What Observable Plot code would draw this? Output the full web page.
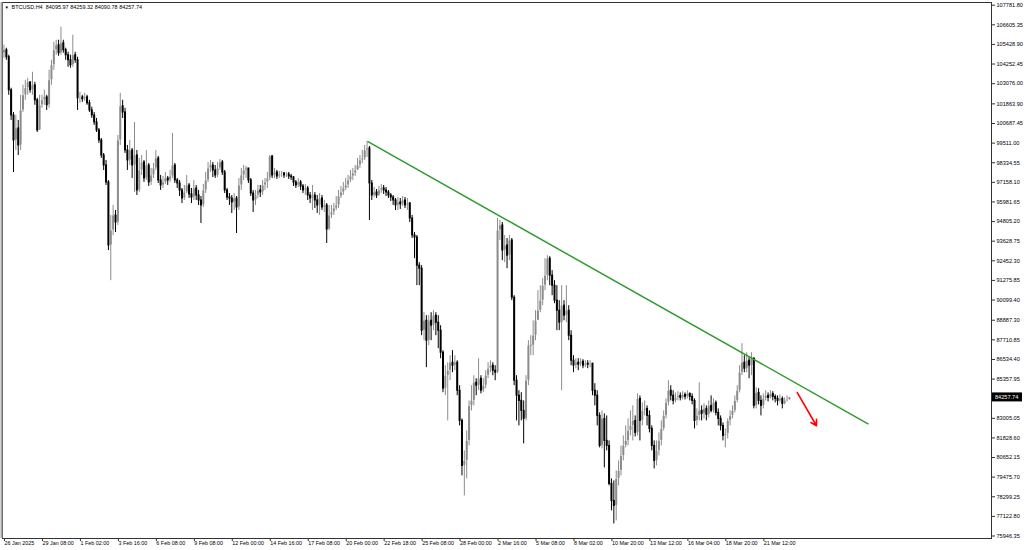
<!DOCTYPE html>
<html><head><meta charset="utf-8">
<script src="https://cdn.jsdelivr.net/npm/d3@7"></script>
<script src="https://cdn.jsdelivr.net/npm/@observablehq/plot@0.6"></script>
<style>html,body{margin:0;padding:0;background:#fff;} svg{display:block}</style>
</head><body><div id="chart"></div>
<script>
const symbolTitle = "BTCUSD,H4  84095.97 84259.32 84090.78 84257.74";
const firstOpen = 104900;
const closes = [
105080,104660,102680,101170,99670,100390,99370,101470,102380,102800,
103160,102680,102980,102080,100270,101780,102080,102260,101780,103280,
104180,105080,105380,104900,105500,105080,104780,104480,104180,104780,
104480,102200,102260,102140,102260,101900,101470,101170,100750,100270,
99670,98770,98170,97150,93370,94270,95170,94750,99670,101720,
101350,99070,98470,99070,98170,98770,96670,97870,98350,97390,
98170,97150,97570,97990,98590,97270,96970,97150,97390,97270,
97510,98170,97270,97090,96670,96190,96550,96970,96430,96250,
96790,96370,96070,95770,96670,97270,97990,98170,97870,97570,
97990,98350,97750,96670,96250,96190,95950,96190,95650,96970,
97570,97870,97990,97270,96490,96070,96370,96670,96550,96970,
97150,97390,98710,97570,97750,97510,97630,97690,97570,97630,
97510,97450,97150,96970,97150,96910,96670,96790,96370,96190,
96370,96070,95770,96190,95650,95770,94330,95170,95350,95590,
95770,96310,96550,96790,96970,97270,97510,97690,97870,98170,
98470,98590,99070,99190,97090,96370,96550,96370,96670,96790,
96670,96550,96370,96250,96070,95770,95950,95830,96070,95770,
95890,94990,93970,93850,92160,91980,88260,88860,87660,88860,
88560,89160,88740,88260,86940,84780,85560,85860,86340,86160,
86340,84660,82850,80150,80450,81650,83750,84050,85140,84960,
85380,84660,84960,85560,85980,86160,85860,85740,94270,94570,
93070,93370,92760,93670,90240,85260,84360,84050,83450,82970,
85260,87360,87360,87960,88860,89460,90060,90960,91560,92580,
91560,90960,90060,89460,88740,89760,89160,89460,87960,86460,
86160,86340,86220,86400,86160,86280,86220,86280,84660,84360,
83150,81350,82970,81650,81350,79070,78050,77750,79370,79850,
80750,81350,81650,82250,82550,82850,82130,84170,82850,83450,
83570,83150,82370,81350,80450,81050,81650,82370,83150,83930,
84660,84360,84050,84230,84350,84230,84410,84290,84470,84290,
84050,82850,83150,83450,83270,83570,83210,83750,83450,83930,
83330,82970,82550,81950,82070,82850,83150,83450,84050,84660,
85740,86340,85980,86460,86160,86580,83750,84530,84050,83750,
84170,84350,84230,84470,84290,84170,84050,84170,83870,84050,
84095.97,84257.74];
const highs = [
105380,105200,104780,102800,101350,101170,100870,102380,102980,103280,
103400,103160,103760,103160,102200,102380,102380,102680,102380,103880,
104480,105560,105680,105680,106460,105680,105200,104960,104780,105980,
104960,104660,102560,102380,102500,102380,102080,101660,101350,100990,
100390,99790,98890,98470,97270,95170,95770,95470,99970,102500,
102080,101600,99370,99670,99190,100750,99070,98590,98770,98470,
99070,98290,97990,98290,99070,98710,97570,97510,97750,97510,
97870,100090,98290,97390,97270,96790,96970,97570,97090,96790,
97270,96970,96670,96310,97030,97750,98350,98470,98350,98170,
98350,98530,98470,97870,96790,96490,96370,96490,96310,97390,
97990,98170,98110,97990,97390,96670,96670,96970,96970,97270,
97390,97750,98770,98770,97990,97870,97810,97810,97750,97750,
97750,97630,97510,97270,97390,97270,97030,97030,96910,96550,
96970,96550,96370,96490,96370,96070,95890,95770,95770,95890,
96310,96670,96910,97150,97390,97570,97870,97990,98170,98590,
98770,99070,99370,99610,99310,97270,96850,96730,96910,97030,
96970,96850,96670,96490,96370,96190,96250,96190,96310,96250,
96190,95950,95170,94150,93970,92340,92160,89340,89160,89160,
89340,89460,89340,89160,88560,87060,86160,86340,86760,87060,
86760,86460,84960,82970,81050,82250,84050,84960,85560,85380,
86580,85560,85380,85860,86340,86460,86340,86160,94990,94870,
94750,93970,93790,93970,93790,90360,85560,84660,84540,84050,
85560,87660,87960,88860,89460,90660,90960,91380,92580,92760,
92700,91860,91260,90960,90060,90960,90060,90960,89760,88260,
86760,86580,86580,86580,86520,86460,86460,86460,86300,85080,
84660,83330,83450,83270,83150,81650,79370,79250,79850,80450,
81350,81950,82550,82970,83450,83750,83150,84470,84350,83930,
84050,83750,83450,82550,81650,81650,82130,82850,83450,84170,
85260,84960,84660,84530,84600,84530,84600,84530,84660,84530,
84470,84170,83570,85140,83750,83870,83750,84050,84350,84170,
84050,83570,83150,82730,82370,82970,83450,83750,84350,84960,
86160,87480,86760,86940,86700,86940,86640,84840,84780,84350,
84470,84660,84530,84660,84600,84410,84350,84410,84290,84230,
84350,84259.32];
const lows = [
104600,104480,102380,100870,97750,99070,98770,99070,101350,102080,
102380,102500,102380,101780,100150,100270,101600,101780,101470,101600,
102980,103880,104780,104720,104780,104900,104480,104060,104000,104060,
104300,101470,101900,101960,102020,101780,101350,100990,100570,100150,
99490,98590,97870,96970,93070,91260,93970,94150,94570,99370,
100990,98890,97870,98170,97390,96550,96370,96550,97570,97150,
97270,96910,96970,97390,97870,97090,96670,96790,97030,96970,
97150,97390,97090,96790,96310,95890,96070,96490,96190,95890,
96070,96070,95770,94690,95650,96490,97150,97750,97450,97390,
97450,97870,97570,96490,96070,95770,95290,95470,94090,95470,
96670,97270,97390,97090,96310,95350,95770,96190,96250,96370,
96670,96790,97270,97390,97390,97330,97390,97450,97390,97450,
97330,97270,96910,96790,96850,96670,96490,96370,96070,95890,
95470,95590,95290,95170,95470,95350,93490,94270,94990,95170,
95470,95590,96190,96370,96670,96790,97150,97270,97510,97870,
97990,98290,98470,98650,94870,96070,96250,96190,96310,96490,
96430,96310,96190,96010,95770,95470,95470,95530,95710,95590,
95470,94750,93790,92580,90960,90960,87960,87660,86040,87360,
87660,88260,87960,87180,86580,84540,84360,82850,85260,85740,
85860,84360,82550,79550,78350,79370,81350,83450,83750,84360,
84660,84470,84540,84780,85380,85740,85560,85260,85680,93670,
92460,92340,91980,92460,90060,84960,82850,82550,82850,81470,
82850,84960,86760,86760,87660,88860,89340,89760,90660,91260,
90960,90360,89880,88260,88260,84660,88860,88740,87660,86160,
85740,85980,85860,86100,85980,86040,85980,86040,84360,83750,
82550,81230,81170,80030,81050,78950,77450,76670,76850,78950,
79550,80450,81230,81350,81950,81650,81890,81950,81650,82550,
83150,82550,82130,81050,79970,80150,80750,81350,82250,82970,
83750,84050,83810,83930,84050,84050,84110,84110,84170,84050,
83810,82370,82550,82850,82850,82970,82850,83030,83330,83330,
83150,82550,82250,81650,81230,81770,82550,82970,83330,83930,
84530,85560,85740,85740,85380,85560,83570,83570,83810,83150,
83570,84050,83990,84170,84050,83930,83750,83930,83570,83810,
83990,84090.78];
const timeLabels = ["26 Jan 2025","29 Jan 08:00","1 Feb 02:00","3 Feb 16:00","6 Feb 08:00","9 Feb 08:00","12 Feb 00:00","14 Feb 16:00","17 Feb 08:00","20 Feb 00:00","22 Feb 18:00","25 Feb 08:00","28 Feb 00:00","2 Mar 16:00","5 Mar 08:00","8 Mar 02:00","10 Mar 20:00","13 Mar 12:00","16 Mar 04:00","18 Mar 20:00","21 Mar 12:00"];
const barsPerTimeLabel = 16;
const priceTicks = [107781.80,106605.35,105428.90,104252.45,103076.00,101863.90,100687.45,99511.00,98334.55,97158.10,95981.65,94805.20,93628.75,92452.30,91275.85,90099.40,88887.30,87710.85,86534.40,85357.95,83005.05,81828.60,80652.15,79475.70,78299.25,77122.80,75946.35];
const trendBars = [153.2, 364.3];
const trendPrices = [99610, 82660];
const arrowBars = [334.3, 342.4];
const arrowPrices = [84550, 82560];
const lastPrice = 84257.74;

const FONT = "Liberation Sans, Arial, sans-serif";
const candles = closes.map((c, i) => {
  const o = i ? closes[i - 1] : firstOpen;
  return {i, o, c, h: Math.max(highs[i], o, c), l: Math.min(lows[i], o, c), up: c >= o};
});
const labelBars = timeLabels.map((_, k) => k * barsPerTimeLabel);
const trend = [{x1: trendBars[0], y1: trendPrices[0], x2: trendBars[1], y2: trendPrices[1]}];
const arrow = [{x1: arrowBars[0], y1: arrowPrices[0], x2: arrowBars[1], y2: arrowPrices[1]}];
const xDomain = [-0.632, 416.16];

const chart = Plot.plot({
  width: 1024, height: 550,
  marginLeft: 2, marginTop: 2, marginRight: 33, marginBottom: 12,
  style: {fontFamily: FONT, background: "#fff", color: "#000"},
  x: {type: "linear", domain: xDomain, axis: null},
  y: {type: "linear", domain: [75946.35, 107781.80], range: [535.5, 4.7], axis: null},
  marks: [
    Plot.ruleX(candles, {x: "i", y1: "l", y2: "h", stroke: d => d.up ? "#8c8c8c" : "#000", strokeWidth: 1}),
    Plot.ruleX(candles, {x: "i", y1: "o", y2: "c", stroke: d => d.up ? "#8c8c8c" : "#000", strokeWidth: 2, insetTop: -0.5, insetBottom: -0.5}),
    Plot.link(trend, {x1: "x1", y1: "y1", x2: "x2", y2: "y2", stroke: "#2f9a2f", strokeWidth: 1.5}),
    Plot.arrow(arrow, {x1: "x1", y1: "y1", x2: "x2", y2: "y2", stroke: "#ff0000", strokeWidth: 1.6, headLength: 6}),
    Plot.frame({stroke: "#333", strokeWidth: 1}),
    Plot.ruleX([xDomain[0]], {stroke: "#a8a8a8", strokeWidth: 2, dx: -1}),
    Plot.axisY(priceTicks, {anchor: "right", tickSize: 3, tickPadding: 2, fontSize: 5.6, tickFormat: d => d.toFixed(2), stroke: "#333"}),
    Plot.axisX(labelBars, {anchor: "bottom", tickSize: 3, tickPadding: 0, fontSize: 5.4, textAnchor: "start", dx: 0.5, tickFormat: d => timeLabels[labelBars.indexOf(d)], stroke: "#333"}),
    Plot.text([symbolTitle], {frameAnchor: "top-left", dx: 9, dy: 3, text: d => d, fontSize: 5.5, textAnchor: "start", lineAnchor: "top", fill: "#000"}),
    Plot.text(["▼"], {frameAnchor: "top-left", dx: 2, dy: 3.5, text: d => d, fontSize: 4.5, textAnchor: "start", lineAnchor: "top", fill: "#000"})
  ]
});
document.getElementById("chart").appendChild(chart);

const yPix = chart.scale("y").apply(lastPrice);
const xAxisEdge = 1024 - 33;
const svg = d3.select(chart);
svg.append("rect").attr("x", xAxisEdge + 1).attr("y", yPix - 4.5).attr("width", 30).attr("height", 9).attr("fill", "#000");
svg.append("text").attr("x", xAxisEdge + 4).attr("y", yPix).attr("dy", "0.35em")
  .attr("text-anchor", "start")
  .attr("font-size", 5.6).attr("font-family", FONT).attr("fill", "#fff").text(lastPrice.toFixed(2));
</script>
</body></html>
